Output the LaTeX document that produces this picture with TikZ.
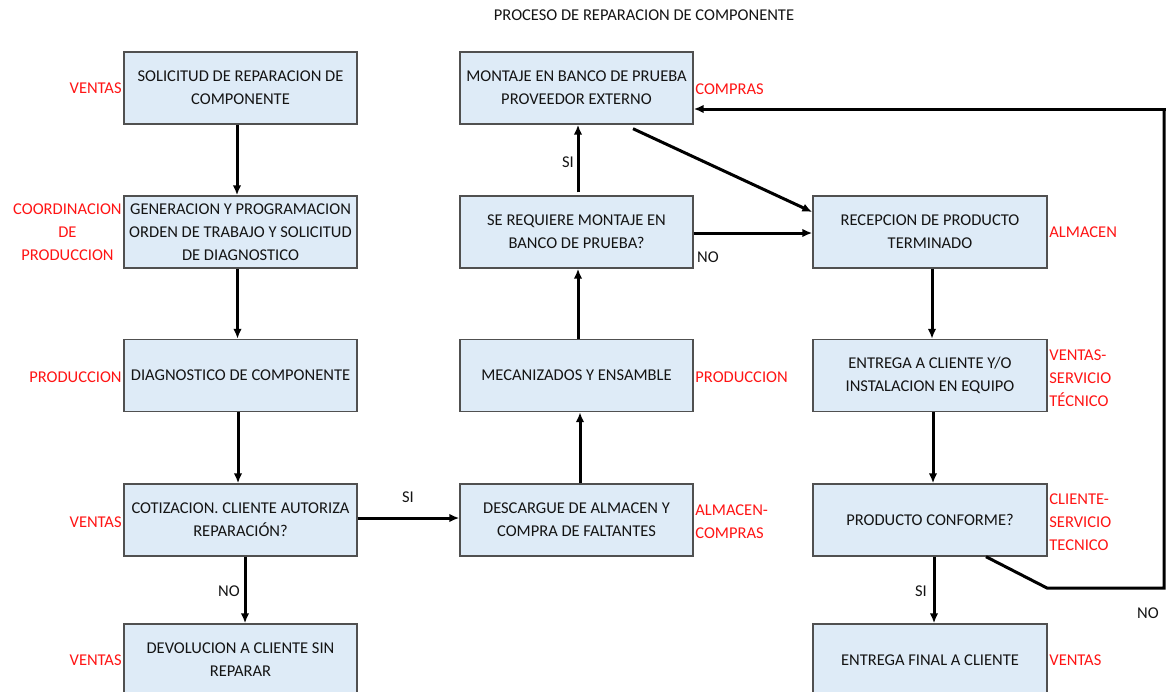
\documentclass[tikz,border=0pt]{standalone}
\usepackage{fontspec}
\setmainfont{Carlito}
\usetikzlibrary{arrows.meta,calc}
\definecolor{boxfill}{RGB}{222,235,247}
\definecolor{boxline}{RGB}{80,80,80}
\definecolor{txt}{RGB}{20,20,20}
\definecolor{roleRed}{RGB}{255,20,20}
\begin{document}
\begin{tikzpicture}[x=1pt,y=-1pt,
  every node/.style={font=\fontsize{16.5}{23}\selectfont, text=txt},
  stepbox/.style={draw=boxline, line width=1.4pt, fill=boxfill,
    minimum width=233pt, minimum height=72pt, inner sep=2pt, align=center},
  role/.style={text=roleRed, inner sep=1.5pt},
  flow/.style={line width=3pt, -{Latex[length=10pt,width=8.5pt]}},
  plain/.style={line width=3pt},
  tag/.style={inner sep=1pt}]
\useasboundingbox (0,0) rectangle (1166,691);

% title
\node (title) at (644,15) {PROCESO DE REPARACION DE COMPONENTE};

% first column
\node[stepbox] (A) at (240.5,88)  {SOLICITUD DE REPARACION DE\\COMPONENTE};
\node[stepbox] (B) at (240.5,232) {GENERACION Y PROGRAMACION\\ORDEN DE TRABAJO Y SOLICITUD\\DE DIAGNOSTICO};
\node[stepbox] (C) at (240.5,375.5) {DIAGNOSTICO DE COMPONENTE};
\node[stepbox] (D) at (240.5,520) {COTIZACION. CLIENTE AUTORIZA\\REPARACIÓN?};
\node[stepbox] (E) at (240.5,660) {DEVOLUCION A CLIENTE SIN\\REPARAR};

% second column
\node[stepbox] (M1) at (576.5,88)  {MONTAJE EN BANCO DE PRUEBA\\PROVEEDOR EXTERNO};
\node[stepbox] (M2) at (576.5,232) {SE REQUIERE MONTAJE EN\\BANCO DE PRUEBA?};
\node[stepbox] (M3) at (576.5,375.5) {MECANIZADOS Y ENSAMBLE};
\node[stepbox] (M4) at (576.5,520) {DESCARGUE DE ALMACEN Y\\COMPRA DE FALTANTES};

% third column
\node[stepbox, minimum width=234pt] (R1) at (930,232) {RECEPCION DE PRODUCTO\\TERMINADO};
\node[stepbox, minimum width=234pt] (R2) at (930,375.5) {ENTREGA A CLIENTE Y/O\\INSTALACION EN EQUIPO};
\node[stepbox, minimum width=234pt] (R3) at (930,520) {PRODUCTO CONFORME?};
\node[stepbox, minimum width=234pt] (R4) at (930,660) {ENTREGA FINAL A CLIENTE};

% responsible areas
\node[role, anchor=east] (rA) at (A.west) {VENTAS};
\node[role, anchor=east, align=center] (rB) at (B.west) {COORDINACION\\DE\\PRODUCCION};
\node[role, anchor=east] (rC) at ([yshift=-2pt]C.west) {PRODUCCION};
\node[role, anchor=east] (rD) at ([yshift=-2pt]D.west) {VENTAS};
\node[role, anchor=east] (rE) at (E.west) {VENTAS};
\node[role, anchor=west] (rM1) at ([yshift=-1pt]M1.east) {COMPRAS};
\node[role, anchor=west] (rM3) at ([yshift=-2pt]M3.east) {PRODUCCION};
\node[role, anchor=west, align=left] (rM4) at ([yshift=-1.5pt]M4.east) {ALMACEN-\\COMPRAS};
\node[role, anchor=west] (rR1) at (R1.east) {ALMACEN};
\node[role, anchor=west, align=left] (rR2) at ([yshift=-2.5pt]R2.east) {VENTAS-\\SERVICIO\\TÉCNICO};
\node[role, anchor=west, align=left] (rR3) at ([yshift=-2pt]R3.east) {CLIENTE-\\SERVICIO\\TECNICO};
\node[role, anchor=west] (rR4) at (R4.east) {VENTAS};

% route of the returned part
\coordinate (bendA) at (1047,588);
\coordinate (bendB) at (1164,588);
\coordinate (bendC) at (1164,109);

% connectors
\draw[flow] ([xshift=-3.5pt]A.south) -- ([xshift=-3.5pt]B.north);
\draw[flow] ([xshift=-3pt]B.south) -- ([xshift=-3pt]C.north);
\draw[flow] ([xshift=-2.5pt]C.south) -- ([xshift=-2.5pt]D.north);
\draw[flow] ([xshift=4.5pt]D.south) -- ([xshift=4.5pt]E.north);
\draw[flow] ([yshift=2pt]D.east) -- ([yshift=2pt]M4.west);
\draw[flow] ([xshift=3.5pt]M4.north) -- ([xshift=3.5pt]M3.south);
\draw[flow] ([xshift=1.5pt]M3.north) -- ([xshift=1.5pt]M2.south);
\draw[flow] ([xshift=1.5pt,yshift=3pt]M2.north) -- ([xshift=1.5pt]M1.south);
\draw[flow] ([xshift=56.5pt,yshift=-4pt]M1.south) -- ([yshift=20pt]R1.west);
\draw[flow] ([yshift=-1pt]M2.east) -- ([yshift=-1pt]R1.west);
\draw[flow] ([xshift=2pt]R1.south) -- ([xshift=2pt]R2.north);
\draw[flow] ([xshift=3pt]R2.south) -- ([xshift=3pt]R3.north);
\draw[flow] ([xshift=4pt]R3.south) -- ([xshift=4pt]R4.north);
\draw[plain, line join=miter] ([xshift=56pt]R3.south) -- (bendA) -- (bendB) -- (bendC);
\draw[flow] ([xshift=1.5pt]bendC) -- (bendC -| M1.east);

% decision labels
\node[tag] (si1) at (568,162) {SI};
\node[tag] (no1) at (708,257) {NO};
\node[tag] (si2) at (408,497) {SI};
\node[tag] (no2) at (229,591) {NO};
\node[tag] (si3) at (921,591) {SI};
\node[tag] (no3) at (1148,613) {NO};
\end{tikzpicture}
\end{document}
